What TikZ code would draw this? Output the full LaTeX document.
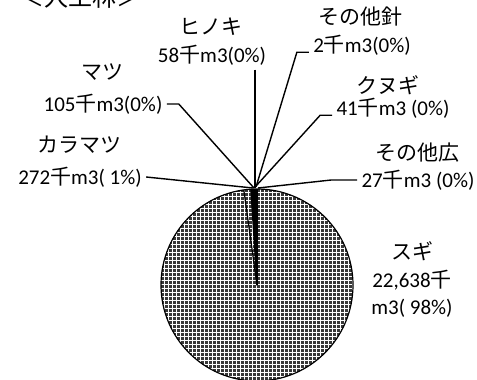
\documentclass[tikz,border=0pt]{standalone}
\usepackage{fontspec}
\setmainfont{Carlito}
\newfontfamily\jp{Noto Sans CJK JP}
\usepackage{tikz}

\begin{document}
\begin{tikzpicture}[x=0.5pt, y=-0.5pt,
    lbl/.style={font=\fontsize{10.5pt}{13.75pt}\selectfont, inner sep=2pt},
    leader/.style={draw=black, line width=0.7pt},
    slice/.style={draw=black, line width=0.6pt},
    checks/.style={fill=black!78}]
    \useasboundingbox (0,0) rectangle (477,380);

    % Title (cut off at the top)
    \node[font=\fontsize{12pt}{14pt}\selectfont\jp] (title) at (80,-3) {＜人工林＞};

    % Pie
    \coordinate (pie_c) at (257,285);
    \begin{scope}
        \clip (pie_c) -- ++(-90:96) arc (-90:266.33:96) -- cycle;
        \fill[checks] (pie_c) circle (96);
        \draw[white, line width=0.3pt, step=2pt] (158,186) grid (358,384);
    \end{scope}
    \fill[black] (pie_c) -- ++(266.33:96) arc (266.33:270:96) -- cycle;
    \foreach \a in {262.1,266.33,267.96,268.86,268.89,269.53,270}
        \draw[slice] (pie_c) -- ++(\a:96);
    \draw[slice] (pie_c) circle (96);

    % Leader ends on the pie
    \coordinate (kara_end) at (253,188);
    \coordinate (matsu_end) at (254,188);
    \coordinate (hinoki_end) at (255,188);
    \coordinate (shin_end) at (256,187);
    \coordinate (kunugi_end) at (256,186);
    \coordinate (kou_end) at (258,188);

    % Labels
    \node[lbl] (kara_name) at (80,145) {\jp カラマツ};
    \node[lbl] (kara_val) at (80,177) {272{\jp 千}m3( 1\%)};
    \draw[leader] (kara_val.east) -- (kara_end);

    \node[lbl] (matsu_name) at (102,72) {\jp マツ};
    \node[lbl] (matsu_val) at (103,104) {105{\jp 千}m3(0\%)};
    \draw[leader] (matsu_val.east) -- ++(12,0) -- (matsu_end);

    \node[lbl] (hinoki_name) at (211,27) {\jp ヒノキ};
    \node[lbl] (hinoki_val) at (212,55) {58{\jp 千}m3(0\%)};
    \draw[leader] (hinoki_val.south -| hinoki_end) -- (hinoki_end);

    \node[lbl] (shin_name) at (360,17) {\jp その他針};
    \node[lbl] (shin_val) at (362,45) {2{\jp 千}m3(0\%)};
    \draw[leader] (shin_val.base west) -- ++(-12,0) -- (shin_end);

    \node[lbl] (kunugi_name) at (388,85) {\jp クヌギ};
    \node[lbl] (kunugi_val) at (393,108) {41{\jp 千}m3 (0\%)};
    \draw[leader] (kunugi_val.base west) -- ++(-12,0) -- (kunugi_end);

    \node[lbl] (kou_name) at (417,153) {\jp その他広};
    \node[lbl] (kou_val) at (418,180) {27{\jp 千}m3 (0\%)};
    \draw[leader] (kou_val.west) -- ++(-26,0) -- (kou_end);

    \node[lbl, align=center] (sugi_lbl) at (412,280) {{\jp スギ}\\22,638{\jp 千}\\m3( 98\%)};
\end{tikzpicture}
\end{document}
